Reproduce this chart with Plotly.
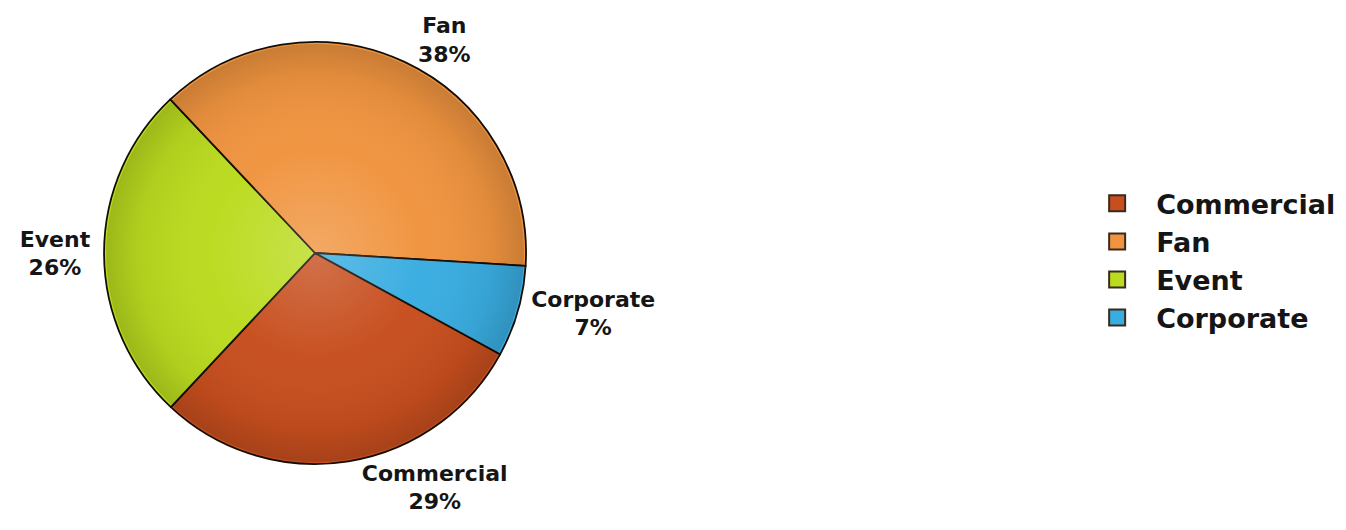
import base64
import plotly.graph_objects as go

# Share of sponsorship by type (percent)
slice_labels = ["Commercial", "Event", "Fan", "Corporate"]
slice_values = [29, 26, 38, 7]
slice_colors = ["#C74E1E", "#BADB1F", "#F0943F", "#39ADE1"]

# Legend listing order
legend_labels = ["Commercial", "Fan", "Event", "Corporate"]
color_of = dict(zip(slice_labels, slice_colors))

FONT = "DejaVu Sans"
PIE_X = [0.0773, 0.3908]
PIE_Y = [0.1245, 0.9208]

fig = go.Figure()

fig.add_trace(go.Pie(
    labels=slice_labels,
    values=slice_values,
    sort=False,
    direction="clockwise",
    rotation=118.7,
    marker=dict(colors=slice_colors, line=dict(color="#140d06", width=1.8)),
    textposition="outside",
    texttemplate="%{label}<br>%{value}%",
    textfont=dict(family=FONT, size=22, color="#151515", weight="bold"),
    domain=dict(x=PIE_X, y=PIE_Y),
    showlegend=False,
    hoverinfo="label+percent",
))

# Legend entries as square swatches
for name in legend_labels:
    fig.add_trace(go.Scatter(
        x=[None], y=[None],
        mode="markers",
        name=name,
        legendgroup=name,
        marker=dict(symbol="square", size=16, color=color_of[name],
                    line=dict(color="#3b2a1c", width=2)),
        hoverinfo="skip",
    ))

# Soft radial shading laid over the pie disc: lighter middle, darker rim
shade_svg = (
    '<svg xmlns="http://www.w3.org/2000/svg" width="200" height="200" viewBox="0 0 200 200">'
    '<defs><radialGradient id="s" cx="50%" cy="50%" r="50%">'
    '<stop offset="0" stop-color="#ffffff" stop-opacity="0.20"/>'
    '<stop offset="0.5" stop-color="#ffffff" stop-opacity="0.02"/>'
    '<stop offset="0.85" stop-color="#000000" stop-opacity="0.06"/>'
    '<stop offset="1" stop-color="#000000" stop-opacity="0.16"/>'
    '</radialGradient></defs>'
    '<circle cx="100" cy="100" r="99" fill="url(#s)"/></svg>'
)
shade_src = "data:image/svg+xml;base64," + base64.b64encode(shade_svg.encode()).decode()

fig.update_layout(
    width=1346, height=530,
    margin=dict(l=0, r=0, t=0, b=0),
    paper_bgcolor="white",
    plot_bgcolor="white",
    xaxis=dict(visible=False),
    yaxis=dict(visible=False),
    images=[dict(
        source=shade_src, xref="paper", yref="paper",
        x=PIE_X[0], y=PIE_Y[1],
        sizex=PIE_X[1] - PIE_X[0], sizey=PIE_Y[1] - PIE_Y[0],
        xanchor="left", yanchor="top", sizing="stretch", layer="above",
    )],
    legend=dict(
        x=0.801, y=0.508, xanchor="left", yanchor="middle",
        font=dict(family=FONT, size=27, color="#151515", weight="bold"),
        itemwidth=68,
        traceorder="normal",
        bgcolor="rgba(0,0,0,0)",
    ),
)

fig.write_html("out.html")
